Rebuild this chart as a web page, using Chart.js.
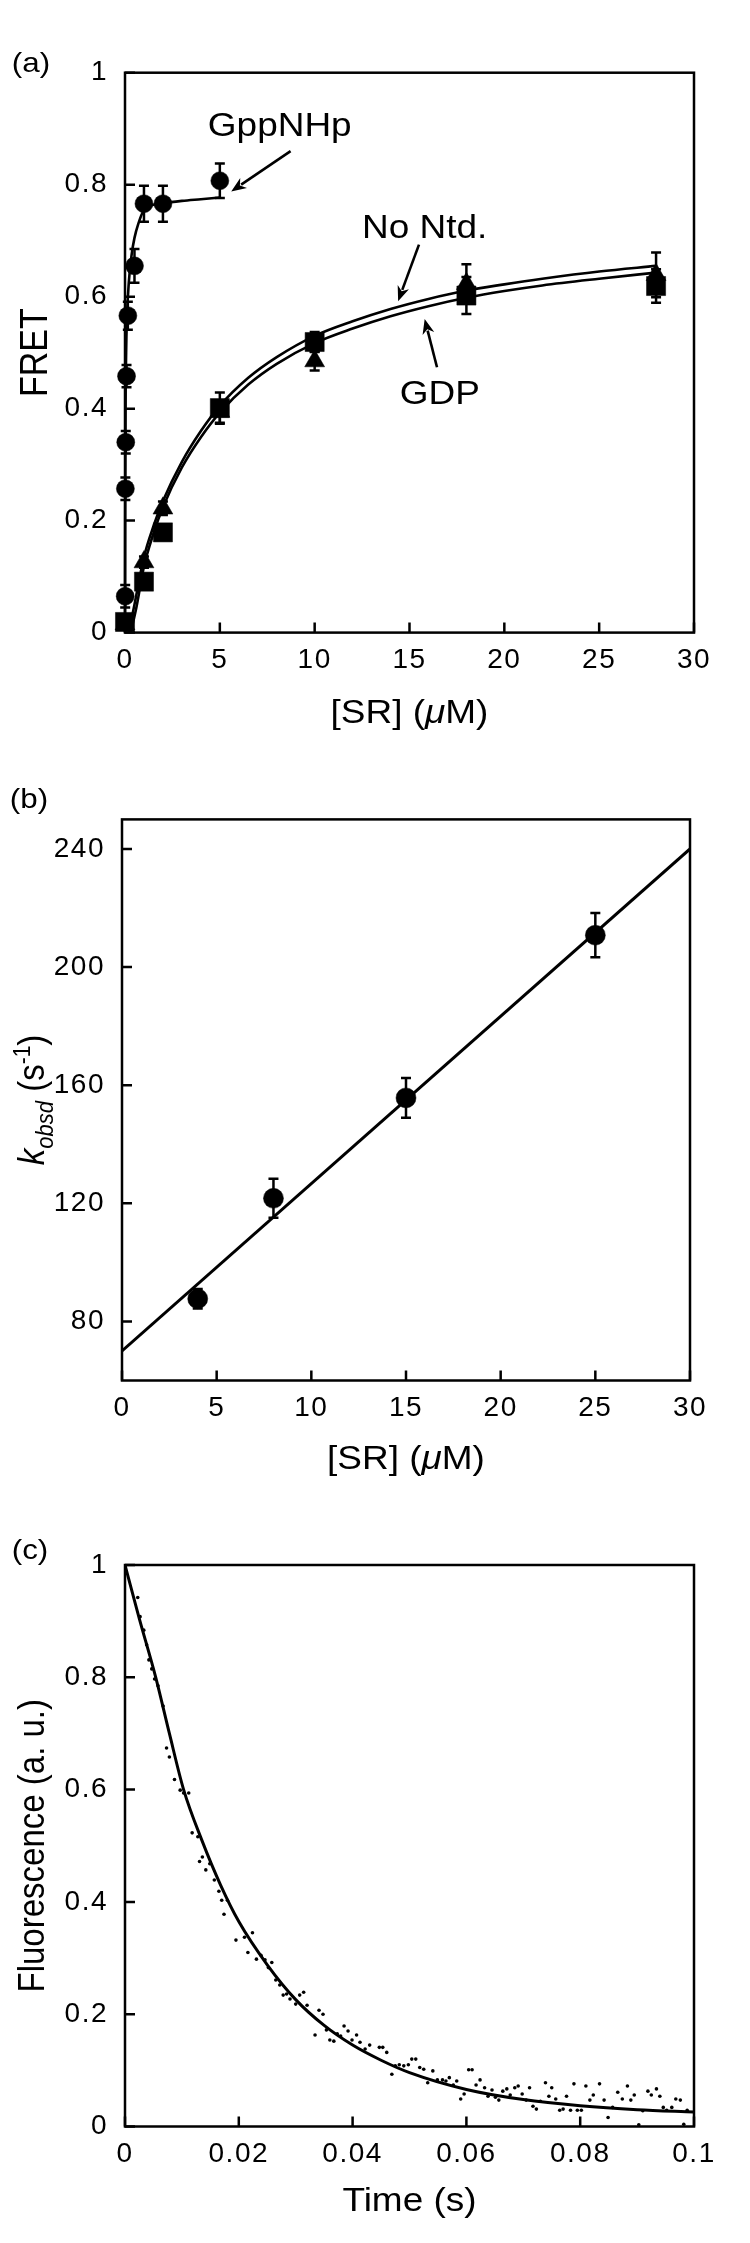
<!DOCTYPE html>
<html><head><meta charset="utf-8">
<script src="https://cdn.jsdelivr.net/npm/chart.js@4.4.1/dist/chart.umd.min.js"></script>
<style>
html,body{margin:0;padding:0;background:#fff;}
#wrap{position:relative;width:750px;height:2243px;background:#fff;}
canvas{position:absolute;left:0;}
</style></head><body>
<div id="wrap">
<canvas id="ca" width="750" height="760" style="top:0px;width:750px;height:760px"></canvas>
<canvas id="cb" width="750" height="720" style="top:760px;width:750px;height:720px"></canvas>
<canvas id="cc" width="750" height="763" style="top:1480px;width:750px;height:763px"></canvas>
</div>
<script>
// ---------- Panel (a) data ----------
const aXTicks = [0, 5, 10, 15, 20, 25, 30];
const aXTickLabels = ['0', '5', '10', '15', '20', '25', '30'];
const aYTicks = [0, 0.2, 0.4, 0.6, 0.8, 1];
const aYTickLabels = ['0', '0.2', '0.4', '0.6', '0.8', '1'];
const gppX = [0.01, 0.02, 0.04, 0.08, 0.15, 0.5, 1, 2, 5];
const gppY = [0.065, 0.257, 0.34, 0.458, 0.566, 0.655, 0.766, 0.766, 0.807];
const gppErr = [0.02, 0.02, 0.02, 0.02, 0.025, 0.03, 0.032, 0.032, 0.031];
const triX = [0, 1, 2, 5, 10, 18, 28];
const triY = [0.015, 0.126, 0.222, 0.395, 0.485, 0.623, 0.639];
const triErr = [0.01, 0.01, 0.012, 0.02, 0.017, 0.035, 0.04];
const sqX = [0, 1, 2, 5, 10, 18, 28];
const sqY = [0.019, 0.091, 0.179, 0.401, 0.519, 0.602, 0.619];
const sqErr = [0.01, 0.01, 0.01, 0.028, 0.018, 0.033, 0.03];
const gppFitX = [0, 0.01, 0.03, 0.06, 0.1, 0.2, 0.35, 0.5, 0.7, 1, 1.5, 2, 3, 4, 5];
const gppFitY = [0, 0.2, 0.4, 0.5, 0.56, 0.625, 0.675, 0.705, 0.73, 0.755, 0.764, 0.767, 0.771, 0.774, 0.777];
const noNtdFitX = [0.2, 0.5, 1, 1.5, 2, 3, 4, 5, 6.5, 8, 10, 12, 14, 16, 18, 20, 22, 25, 28];
const noNtdFitY = [0, 0.05, 0.135, 0.19, 0.235, 0.305, 0.36, 0.405, 0.455, 0.492, 0.53, 0.556, 0.578, 0.596, 0.611, 0.622, 0.632, 0.645, 0.655];
const gdpFitX = [0.3, 0.6, 1, 1.5, 2, 3, 4, 5, 6.5, 8, 10, 12, 14, 16, 18, 20, 22, 25, 28];
const gdpFitY = [0, 0.045, 0.118, 0.177, 0.224, 0.295, 0.349, 0.393, 0.443, 0.48, 0.517, 0.543, 0.565, 0.583, 0.598, 0.61, 0.62, 0.632, 0.643];

// ---------- Panel (b) data ----------
const bXTicks = [0, 5, 10, 15, 20, 25, 30];
const bXTickLabels = ['0', '5', '10', '15', '20', '25', '30'];
const bYTicks = [80, 120, 160, 200, 240];
const bYTickLabels = ['80', '120', '160', '200', '240'];
const kobsX = [4, 8, 15, 25];
const kobsY = [87.7, 121.7, 155.7, 210.8];
const kobsErr = [3.3, 6.6, 6.7, 7.5];
const kFitX = [0, 30];
const kFitY = [70, 240];

// ---------- Panel (c) data ----------
const cXTicks = [0, 0.02, 0.04, 0.06, 0.08, 0.1];
const cXTickLabels = ['0', '0.02', '0.04', '0.06', '0.08', '0.1'];
const cYTicks = [0, 0.2, 0.4, 0.6, 0.8, 1];
const cYTickLabels = ['0', '0.2', '0.4', '0.6', '0.8', '1'];
const fluorT = [0.00224,0.00265,0.0033,0.0038,0.0042,0.0047,0.0052,0.0058,0.0067,0.0073,0.0078,0.0087,0.0097,0.0103,0.0112,0.0118,0.0128,0.0131,0.0136,0.0142,
0.0149,0.0157,0.0165,0.017,0.0174,0.018,0.0195,0.021,0.0216,0.0224,0.0231,0.0239,0.0246,0.0252,0.0258,0.0265,0.0272,0.0278,0.0284,0.029,
0.03,0.0307,0.0314,0.032,0.0334,0.0341,0.0348,0.0354,0.036,0.0367,0.0373,0.0379,0.0385,0.0392,0.0399,0.0407,0.0413,0.0422,0.043,0.0447,
0.0453,0.046,0.0469,0.0475,0.0482,0.049,0.0498,0.0504,0.0511,0.0518,0.0525,0.0532,0.0541,0.0549,0.0558,0.0564,0.057,0.0577,0.0583,0.059,
0.0596,0.0604,0.061,0.0617,0.0624,0.0632,0.0638,0.0645,0.0651,0.0657,0.0664,0.0671,0.0677,0.0685,0.0691,0.0698,0.0705,0.0711,0.0717,0.0723,
0.073,0.0739,0.0745,0.075,0.0757,0.0764,0.077,0.0776,0.0783,0.0789,0.0795,0.0802,0.081,0.0817,0.0823,0.0834,0.0842,0.0849,0.0857,0.0866,
0.0874,0.0883,0.0889,0.0895,0.0903,0.091,0.0919,0.0925,0.0934,0.094,0.0946,0.0952,0.0961,0.0968,0.0976,0.0982,0.0988];
const fluorV = [0.942,0.908,0.884,0.858,0.831,0.815,0.797,0.785,0.749,0.674,0.658,0.618,0.599,0.594,0.594,0.523,0.516,0.472,0.48,0.457,
0.468,0.439,0.419,0.403,0.378,0.403,0.332,0.337,0.31,0.345,0.298,0.305,0.297,0.283,0.292,0.261,0.252,0.234,0.236,0.227,
0.218,0.234,0.239,0.216,0.163,0.207,0.2,0.172,0.154,0.152,0.165,0.161,0.179,0.17,0.154,0.163,0.15,0.138,0.145,0.141,
0.141,0.132,0.093,0.108,0.11,0.108,0.11,0.12,0.12,0.105,0.102,0.078,0.099,0.083,0.083,0.081,0.087,0.074,0.081,0.049,
0.058,0.101,0.101,0.074,0.083,0.069,0.054,0.065,0.052,0.047,0.063,0.067,0.056,0.069,0.072,0.058,0.047,0.069,0.036,0.031,
0.045,0.078,0.054,0.069,0.049,0.029,0.031,0.054,0.029,0.076,0.029,0.029,0.072,0.047,0.056,0.076,0.047,0.016,0.034,0.061,
0.049,0.072,0.047,0.056,0.003,0.028,0.063,0.056,0.067,0.054,0.034,0.029,0.034,0.049,0.047,0.004,0.029];
const fluorFitT = [0, 0.0025, 0.0054, 0.0078, 0.0103, 0.0135, 0.0168, 0.02, 0.025, 0.03, 0.035, 0.04, 0.045, 0.05, 0.06, 0.07, 0.08, 0.09, 0.1];
const fluorFitV = [1.0, 0.905, 0.8, 0.7, 0.6, 0.51, 0.43, 0.365, 0.288, 0.226, 0.18, 0.145, 0.118, 0.096, 0.066, 0.048, 0.037, 0.03, 0.026];

// ---------- helpers ----------
const FF = '"Liberation Sans", Arial, Helvetica, sans-serif';
const SX = 1.12;          // horizontal text stretch of the original figure
const LW = 2.5;
const TICK_FONT = 28;
function pts(xs, ys) { return xs.map((x, i) => ({ x: x, y: ys[i] })); }

function drawRich(ctx, parts, cx, cy, vertical) {
  ctx.save();
  ctx.translate(cx, cy);
  ctx.scale(SX, 1);
  if (vertical) ctx.rotate(-Math.PI / 2);
  ctx.fillStyle = '#000';
  ctx.textAlign = 'left';
  ctx.textBaseline = 'alphabetic';
  let total = 0;
  parts.forEach(p => { ctx.font = p.font; p.w = ctx.measureText(p.t).width; total += p.w; });
  let x = -total / 2;
  parts.forEach(p => { ctx.font = p.font; ctx.fillText(p.t, x, p.dy); x += p.w; });
  ctx.restore();
}
function plain(size, t, dy) { return { t: t, font: size + 'px ' + FF, dy: dy }; }
function ital(size, t, dy) { return { t: t, font: 'italic ' + size + 'px ' + FF, dy: dy }; }

function arrow(ctx, x1, y1, x2, y2) {
  const ang = Math.atan2(y2 - y1, x2 - x1);
  const L = 15, W = 6;
  ctx.save();
  ctx.strokeStyle = '#000'; ctx.fillStyle = '#000'; ctx.lineWidth = 2.6;
  ctx.beginPath(); ctx.moveTo(x1, y1);
  ctx.lineTo(x2 - Math.cos(ang) * L * 0.8, y2 - Math.sin(ang) * L * 0.8); ctx.stroke();
  ctx.beginPath();
  ctx.moveTo(x2, y2);
  ctx.lineTo(x2 - Math.cos(ang) * L - Math.sin(ang) * W, y2 - Math.sin(ang) * L + Math.cos(ang) * W);
  ctx.lineTo(x2 - Math.cos(ang) * L * 0.7, y2 - Math.sin(ang) * L * 0.7);
  ctx.lineTo(x2 - Math.cos(ang) * L + Math.sin(ang) * W, y2 - Math.sin(ang) * L - Math.cos(ang) * W);
  ctx.closePath(); ctx.fill();
  ctx.restore();
}

function makeScales(o) {
  return {
    x: {
      type: 'linear', min: o.xmin, max: o.xmax, offset: false,
      grid: { display: false, drawTicks: false }, border: { display: false },
      afterBuildTicks: s => { s.ticks = o.xticks.map(v => ({ value: v })); },
      afterFit: s => { s.height = 60; },
      ticks: { autoSkip: false, maxRotation: 0, minRotation: 0, padding: 11, color: '#000',
        font: { family: FF, size: TICK_FONT }, callback: (v, i) => o.xlabels[i] }
    },
    y: {
      type: 'linear', min: o.ymin, max: o.ymax,
      grid: { display: false, drawTicks: false }, border: { display: false },
      afterBuildTicks: s => { s.ticks = o.yticks.map(v => ({ value: v })); },
      afterFit: s => { s.width = o.left; },
      ticks: { autoSkip: false, padding: 17, color: '#000',
        font: { family: FF, size: TICK_FONT }, callback: (v, i) => o.ylabels[i] }
    }
  };
}

function panelPlugin(o) {
  return {
    id: 'panel_' + o.id,
    beforeDraw(chart) { chart.ctx.letterSpacing = '1.5px'; },
    beforeDatasetsDraw(chart) {
      const ctx = chart.ctx, xs = chart.scales.x, ys = chart.scales.y;
      ctx.save();
      ctx.strokeStyle = '#000'; ctx.lineWidth = 2.5;
      (o.errors || []).forEach(e => {
        const data = chart.data.datasets[e.ds].data;
        data.forEach((p, i) => {
          const err = e.err[i];
          const px = xs.getPixelForValue(p.x);
          const ya = ys.getPixelForValue(p.y + err), yb = ys.getPixelForValue(p.y - err);
          ctx.beginPath();
          ctx.moveTo(px, ya); ctx.lineTo(px, yb);
          ctx.moveTo(px - 5, ya); ctx.lineTo(px + 5, ya);
          ctx.moveTo(px - 5, yb); ctx.lineTo(px + 5, yb);
          ctx.stroke();
        });
      });
      ctx.restore();
    },
    afterDraw(chart) {
      const ctx = chart.ctx, a = chart.chartArea, xs = chart.scales.x, ys = chart.scales.y;
      ctx.letterSpacing = '0px';
      ctx.save();
      ctx.strokeStyle = '#000'; ctx.lineWidth = LW;
      ctx.strokeRect(a.left, a.top, a.right - a.left, a.bottom - a.top);
      ctx.beginPath();
      o.xticks.forEach(v => { const px = xs.getPixelForValue(v); ctx.moveTo(px, a.bottom); ctx.lineTo(px, a.bottom - 10); });
      o.yticks.forEach(v => { const py = ys.getPixelForValue(v); ctx.moveTo(a.left, py); ctx.lineTo(a.left + 10, py); });
      ctx.stroke();
      ctx.restore();
      // panel letter
      drawRich(ctx, [plain(28, o.letter, 10)], o.letterX, o.letterY, false);
      // axis titles
      drawRich(ctx, o.xTitle, (a.left + a.right) / 2, a.bottom + o.xTitleOff, false);
      drawRich(ctx, o.yTitle, o.yTitleX, (a.top + a.bottom) / 2, true);
      // annotations
      (o.notes || []).forEach(n => {
        drawRich(ctx, [plain(33, n.text, 12)], xs.getPixelForValue(n.x), ys.getPixelForValue(n.y), false);
        arrow(ctx, xs.getPixelForValue(n.arrow[0]), ys.getPixelForValue(n.arrow[1]),
                   xs.getPixelForValue(n.arrow[2]), ys.getPixelForValue(n.arrow[3]));
      });
    }
  };
}

const srTitle = [plain(33, '[SR] (', 12), ital(33, '\u03BC', 12), plain(33, 'M)', 12)];

function baseOptions(o, pad) {
  return {
    responsive: false, animation: false, devicePixelRatio: 1,
    layout: { padding: pad },
    plugins: { legend: { display: false }, tooltip: { enabled: false } },
    scales: makeScales(o)
  };
}

// ---------- Chart (a) ----------
const oa = { id: 'a', xmin: 0, xmax: 30, ymin: 0, ymax: 1, left: 125,
  xticks: aXTicks, xlabels: aXTickLabels, yticks: aYTicks, ylabels: aYTickLabels,
  letter: '(a)', letterX: 31, letterY: 62,
  xTitle: srTitle, xTitleOff: 78,
  yTitle: [plain(34, 'FRET', 12)], yTitleX: 34,
  errors: [{ ds: 3, err: gppErr }, { ds: 4, err: triErr }, { ds: 5, err: sqErr }],
  notes: [
    { text: 'GppNHp', x: 8.16, y: 0.909, arrow: [8.73, 0.86, 5.6, 0.788] },
    { text: 'No Ntd.', x: 15.8, y: 0.727, arrow: [15.5, 0.693, 14.4, 0.592] },
    { text: 'GDP', x: 16.6, y: 0.43, arrow: [16.45, 0.474, 15.8, 0.56] }
  ] };
new Chart(document.getElementById('ca'), {
  type: 'scatter',
  data: { datasets: [
    { data: pts(gppFitX, gppFitY), showLine: true, borderColor: '#000', borderWidth: 2.6, pointRadius: 0, cubicInterpolationMode: 'monotone', clip: false },
    { data: pts(noNtdFitX, noNtdFitY), showLine: true, borderColor: '#000', borderWidth: 2.6, pointRadius: 0, cubicInterpolationMode: 'monotone', clip: false },
    { data: pts(gdpFitX, gdpFitY), showLine: true, borderColor: '#000', borderWidth: 2.6, pointRadius: 0, cubicInterpolationMode: 'monotone', clip: false },
    { data: pts(gppX, gppY), pointStyle: 'circle', pointRadius: 9, backgroundColor: '#000', borderColor: '#000', borderWidth: 0.5, clip: false },
    { data: pts(triX, triY), pointStyle: 'triangle', pointRadius: 11.5, backgroundColor: '#000', borderColor: '#000', borderWidth: 0.5, clip: false },
    { data: pts(sqX, sqY), pointStyle: 'rect', pointRadius: 13.5, backgroundColor: '#000', borderColor: '#000', borderWidth: 0.5, clip: false }
  ] },
  options: baseOptions(oa, { left: 0, top: 72.7, right: 56, bottom: 67.4 }),
  plugins: [panelPlugin(oa)]
});

// ---------- Chart (b) ----------
const kTitle = [ital(33, 'k', 12), ital(22, 'obsd', 20), plain(33, ' (s', 12), plain(21, '-1', -1), plain(33, ')', 12)];
const ob = { id: 'b', xmin: 0, xmax: 30, ymin: 60, ymax: 250, left: 122,
  xticks: bXTicks, xlabels: bXTickLabels, yticks: bYTicks, ylabels: bYTickLabels,
  letter: '(b)', letterX: 29, letterY: 38,
  xTitle: srTitle, xTitleOff: 76,
  yTitle: kTitle, yTitleX: 31,
  errors: [{ ds: 1, err: kobsErr }] };
new Chart(document.getElementById('cb'), {
  type: 'scatter',
  data: { datasets: [
    { data: pts(kFitX, kFitY), showLine: true, borderColor: '#000', borderWidth: 3, pointRadius: 0 },
    { data: pts(kobsX, kobsY), pointStyle: 'circle', pointRadius: 10, backgroundColor: '#000', borderColor: '#000', borderWidth: 0.5, clip: false }
  ] },
  options: baseOptions(ob, { left: 0, top: 59.4, right: 60, bottom: 39.5 }),
  plugins: [panelPlugin(ob)]
});

// ---------- Chart (c) ----------
const oc = { id: 'c', xmin: 0, xmax: 0.1, ymin: 0, ymax: 1, left: 125,
  xticks: cXTicks, xlabels: cXTickLabels, yticks: cYTicks, ylabels: cYTickLabels,
  letter: '(c)', letterX: 30, letterY: 69,
  xTitle: [plain(33, 'Time (s)', 12)], xTitleOff: 72,
  yTitle: [plain(33, 'Fluorescence (a. u.)', 12)], yTitleX: 31 };
new Chart(document.getElementById('cc'), {
  type: 'scatter',
  data: { datasets: [
    { data: pts(fluorFitT, fluorFitV), showLine: true, borderColor: '#000', borderWidth: 3, pointRadius: 0, cubicInterpolationMode: 'monotone' },
    { data: pts(fluorT, fluorV), pointStyle: 'circle', pointRadius: 1.8, backgroundColor: '#000', borderWidth: 0 }
  ] },
  options: baseOptions(oc, { left: 0, top: 85, right: 56, bottom: 56.5 }),
  plugins: [panelPlugin(oc)]
});
</script>
</body></html>
